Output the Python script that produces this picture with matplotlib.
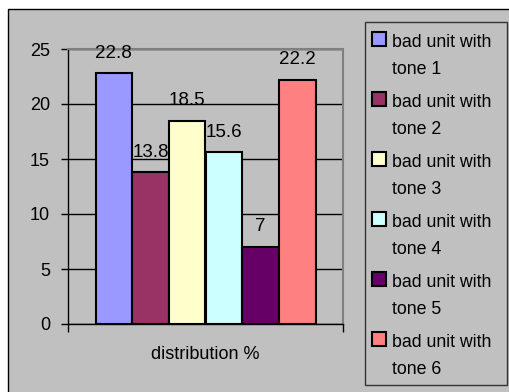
import matplotlib
matplotlib.use("Agg")
import matplotlib.pyplot as plt
from matplotlib.patches import Rectangle

plt.rcParams['font.family'] = ['Liberation Sans', 'DejaVu Sans']

category = "distribution %"
series_labels = ["bad unit with tone 1", "bad unit with tone 2", "bad unit with tone 3",
                 "bad unit with tone 4", "bad unit with tone 5", "bad unit with tone 6"]
values = [22.8, 13.8, 18.5, 15.6, 7, 22.2]
value_labels = ["22.8", "13.8", "18.5", "15.6", "7", "22.2"]
colors = ["#9999FF", "#993366", "#FFFFCC", "#CCFFFF", "#660066", "#FF8080"]
yticks = [0, 5, 10, 15, 20, 25]

W, H = 509, 392
fig = plt.figure(figsize=(W / 100, H / 100), dpi=100)
fig.patch.set_facecolor("white")

def fx(x):
    return x / W

def fy(y):
    return 1 - y / H

BG = "#C0C0C0"
fig.patches.append(Rectangle((fx(8), fy(420)), fx(540) - fx(8), fy(9) - fy(420),
                             transform=fig.transFigure, facecolor=BG, edgecolor="black",
                             lw=1.0, zorder=-2))

ax = fig.add_axes([fx(68), fy(324), fx(343) - fx(68), fy(49) - fy(324)])
ax.set_zorder(1)
ax.set_facecolor(BG)

n = len(values)
group = 0.8
w = group / n
for i, (v, c, lab) in enumerate(zip(values, colors, value_labels)):
    xc = -group / 2 + w * (i + 0.5)
    ax.bar(xc, v, width=w, color=c, edgecolor="black", linewidth=1.5, zorder=2)
    ax.annotate(lab, (xc, v), xytext=(0, 11.2), textcoords="offset points",
                ha="center", va="baseline", fontsize=13.5, color="black")

ax.set_xlim(-0.5, 0.5)
ax.set_ylim(0, 25)
ax.set_yticks(yticks)
ax.set_yticklabels([str(t) for t in yticks], fontsize=13)
ax.tick_params(axis="y", direction="out", length=5, width=1, pad=8, color="black")
ax.set_xticks([-0.5, 0.5])
ax.set_xticklabels(["", ""])
ax.tick_params(axis="x", which="major", direction="out", length=6, width=1, color="black")
ax.set_xticks([0], minor=True)
ax.set_xticklabels([category], minor=True, fontsize=13)
ax.tick_params(axis="x", which="minor", length=0, pad=16)

ax.set_axisbelow(True)
ax.yaxis.grid(True, color="black", linewidth=1.0)
ax.xaxis.grid(False)
for s in ["left", "bottom"]:
    ax.spines[s].set_color("black")
    ax.spines[s].set_linewidth(1.0)
for s in ["top", "right"]:
    ax.spines[s].set_color("#808080")
    ax.spines[s].set_linewidth(1.5)

fig.patches.append(Rectangle((fx(365), fy(385)), fx(507) - fx(365), fy(22) - fy(385),
                             transform=fig.transFigure, facecolor=BG, edgecolor="#333333",
                             lw=1.0, zorder=1))
for i, (lab, c) in enumerate(zip(series_labels, colors)):
    top = 32 + 60 * i
    fig.patches.append(Rectangle((fx(372), fy(top + 14)), fx(386) - fx(372), fy(top) - fy(top + 14),
                                 transform=fig.transFigure, facecolor=c, edgecolor="black",
                                 lw=1.5, zorder=2))
    parts = lab.rsplit(" ", 2)
    first, second = parts[0], " ".join(parts[1:])
    fig.text(fx(392), fy(47 + 60 * i), first, fontsize=12.8, va="baseline", ha="left", color="black")
    fig.text(fx(392), fy(74 + 60 * i), second, fontsize=12.8, va="baseline", ha="left", color="black")

fig.savefig("out.png", dpi=100, facecolor=fig.get_facecolor())
